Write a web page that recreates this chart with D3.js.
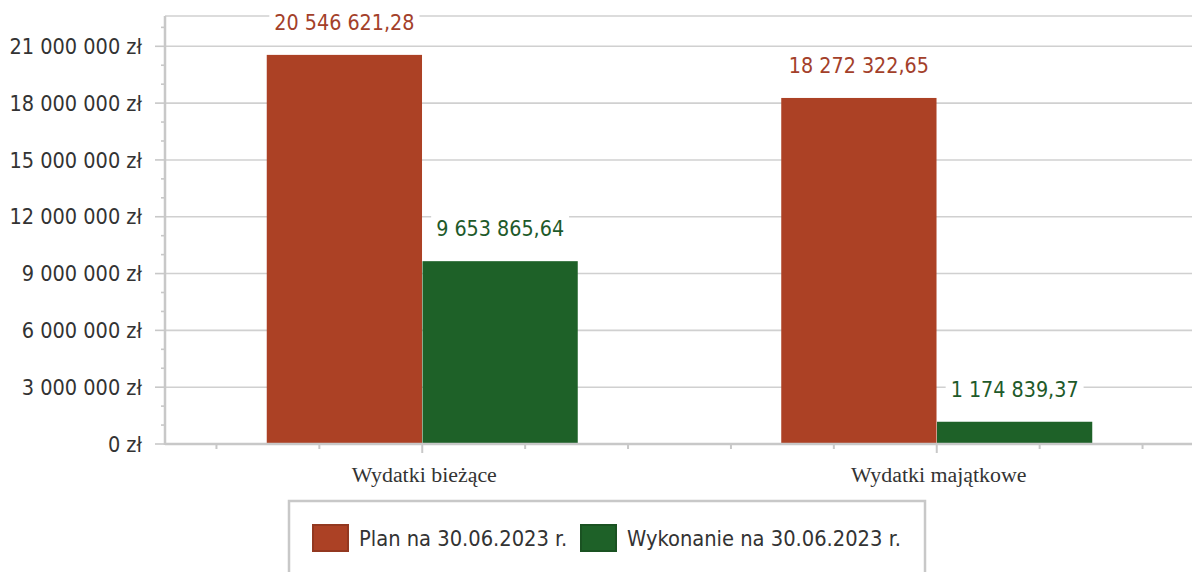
<!DOCTYPE html>
<html><head><meta charset="utf-8">
<script src="https://cdn.jsdelivr.net/npm/d3@7"></script>
<style>
html,body{margin:0;padding:0;background:#fff;}
svg{display:block;}
</style></head>
<body>
<svg id="chart" width="1192" height="572"></svg>
<script>
const categories = ["Wydatki bieżące", "Wydatki majątkowe"];
const seriesNames = ["Plan na 30.06.2023 r.", "Wykonanie na 30.06.2023 r."];
const planValues = [20546621.28, 18272322.65];
const wykonanieValues = [9653865.64, 1174839.37];
const valueLabels = [["20 546 621,28", "18 272 322,65"], ["9 653 865,64", "1 174 839,37"]];
const yTicks = [0, 3000000, 6000000, 9000000, 12000000, 15000000, 18000000, 21000000];
const yTickLabels = ["0 zł", "3 000 000 zł", "6 000 000 zł", "9 000 000 zł", "12 000 000 zł", "15 000 000 zł", "18 000 000 zł", "21 000 000 zł"];

(function () {
const colors = ["#AC4125", "#1E6128"];
const strokeColors = ["#933820", "#1A5222"];
const labelColors = ["#A3402A", "#1E5A2A"];
const font = "'DejaVu Sans Condensed', 'DejaVu Sans', sans-serif";

const svg = d3.select("#chart");
const pLeft = 165, pRight = 1194, pTop = 16, pBottom = 444;
const yMax = 22600000;

const y = d3.scaleLinear().domain([0, yMax]).range([pBottom, pTop]);
const x = d3.scaleBand().domain(categories).range([pLeft, pRight]).paddingInner(0).paddingOuter(0);
const bw = x.bandwidth();
const groupW = 311;
const xs = d3.scaleBand().domain([0, 1]).range([(bw - groupW) / 2, (bw + groupW) / 2]).paddingInner(0.003);

const series = [planValues, wykonanieValues];

const minorTicks = d3.range(0, yMax, 1000000);
svg.append("g").selectAll("line").data(yTicks.concat([yMax])).join("line")
  .attr("x1", pLeft).attr("x2", 1192)
  .attr("y1", d => y(d)).attr("y2", d => y(d))
  .attr("stroke", "#d0d0d0").attr("stroke-width", 1.6);

svg.append("g").selectAll("line").data(minorTicks.filter(d => !yTicks.includes(d))).join("line")
  .attr("x1", pLeft - 4).attr("x2", pLeft)
  .attr("y1", d => y(d)).attr("y2", d => y(d))
  .attr("stroke", "#c8c8c8").attr("stroke-width", 1.6);
svg.append("g").selectAll("line").data(yTicks).join("line")
  .attr("x1", pLeft - 10).attr("x2", pLeft)
  .attr("y1", d => y(d)).attr("y2", d => y(d))
  .attr("stroke", "#c8c8c8").attr("stroke-width", 1.6);

svg.append("g").selectAll("text").data(yTicks).join("text")
  .attr("x", 142).attr("y", d => y(d)).attr("dy", "0.36em")
  .attr("text-anchor", "end")
  .attr("font-family", font).attr("font-size", 21.5).attr("fill", "#333")
  .text((d, i) => yTickLabels[i]);

series.forEach((vals, si) => {
  svg.append("g").selectAll("rect").data(categories).join("rect")
    .attr("x", (c) => x(c) + xs(si))
    .attr("width", xs.bandwidth())
    .attr("y", (c, i) => y(vals[i]))
    .attr("height", (c, i) => y(0) - y(vals[i]))
    .attr("fill", colors[si]);
});

svg.append("line").attr("x1", pLeft).attr("x2", pLeft).attr("y1", pTop).attr("y2", pBottom + 1)
  .attr("stroke", "#c8c8c8").attr("stroke-width", 2.5);
svg.append("line").attr("x1", pLeft).attr("x2", 1192).attr("y1", pBottom).attr("y2", pBottom)
  .attr("stroke", "#c8c8c8").attr("stroke-width", 2.5);

const xTickData = [];
categories.forEach(c => {
  for (let k = -2; k <= 2; k++) xTickData.push({pos: x(c) + bw / 2 + k * bw / 5, major: k === 0});
});
svg.append("g").selectAll("line").data(xTickData).join("line")
  .attr("x1", d => d.pos).attr("x2", d => d.pos)
  .attr("y1", pBottom).attr("y2", d => d.major ? pBottom + 9 : pBottom + 5)
  .attr("stroke", "#c8c8c8").attr("stroke-width", 2);

svg.append("g").selectAll("text").data(categories).join("text")
  .attr("x", c => x(c) + bw / 2 + 2).attr("y", 482)
  .attr("text-anchor", "middle")
  .attr("font-family", "'Liberation Serif', 'Times New Roman', serif")
  .attr("font-size", 21.9).attr("fill", "#333")
  .text(c => c);

series.forEach((vals, si) => {
  const g = svg.append("g");
  categories.forEach((c, i) => {
    const cx = x(c) + xs(si) + xs.bandwidth() / 2;
    const by = y(vals[i]) - 25;
    const t = g.append("text")
      .attr("x", cx).attr("y", by)
      .attr("text-anchor", "middle")
      .attr("font-family", font).attr("font-size", 21.3)
      .attr("fill", labelColors[si])
      .text(valueLabels[si][i]);
    const bb = t.node().getBBox();
    g.insert("rect", "text")
      .attr("x", bb.x - 5).attr("y", bb.y - 2)
      .attr("width", bb.width + 10).attr("height", bb.height + 4)
      .attr("fill", "#fff");
  });
});

const lg = svg.append("g");
lg.append("rect").attr("x", 289).attr("y", 501).attr("width", 636).attr("height", 90)
  .attr("fill", "#fff").attr("stroke", "#c8c8c8").attr("stroke-width", 2.5);
const legendX = [312, 580];
seriesNames.forEach((n, i) => {
  lg.append("rect").attr("x", legendX[i] + 1).attr("y", 525).attr("width", 35).attr("height", 26)
    .attr("fill", colors[i]).attr("stroke", strokeColors[i]).attr("stroke-width", 2);
  lg.append("text").attr("x", legendX[i] + 47).attr("y", 545.5)
    .attr("font-family", font).attr("font-size", 21.7).attr("fill", "#333")
    .text(n);
});
})();
</script>
</body></html>
